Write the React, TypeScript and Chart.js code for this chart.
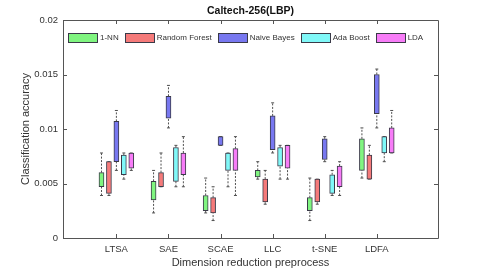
import React, { useEffect, useRef } from 'react';
import { Chart, registerables } from 'chart.js';

Chart.register(...registerables);

// ---------- data ----------
const categories = ['LTSA', 'SAE', 'SCAE', 'LLC', 't-SNE', 'LDFA'];
const seriesNames = ['1-NN', 'Random Forest', 'Naive Bayes', 'Ada Boost', 'LDA'];
const yTickValues = [0, 0.005, 0.01, 0.015, 0.02];

// whisker low, box bottom (q1), box top (q3), whisker high
const nnLow = [0.0039, 0.0023, 0.0023, 0.0054, 0.0016, 0.0055];
const nnQ1 = [0.0047, 0.0035, 0.0025, 0.0056, 0.0025, 0.0062];
const nnQ3 = [0.006, 0.0052, 0.0039, 0.0062, 0.0037, 0.0091];
const nnHigh = [0.0078, 0.0062, 0.0055, 0.007, 0.0055, 0.0101];

const rfLow = [0.0039, 0.0047, 0.0016, 0.0031, 0.0031, 0.0054];
const rfQ1 = [0.0041, 0.0047, 0.0023, 0.0033, 0.0033, 0.0054];
const rfQ3 = [0.007, 0.006, 0.0037, 0.0054, 0.0054, 0.0076];
const rfHigh = [0.007, 0.0078, 0.0047, 0.0062, 0.0054, 0.0085];

const nbLow = [0.0062, 0.0101, 0.0085, 0.0078, 0.007, 0.0101];
const nbQ1 = [0.007, 0.011, 0.0085, 0.0081, 0.0072, 0.0114];
const nbQ3 = [0.0107, 0.013, 0.0093, 0.0112, 0.0091, 0.015];
const nbHigh = [0.0117, 0.014, 0.0093, 0.0124, 0.0093, 0.0155];

const abLow = [0.0054, 0.0047, 0.0047, 0.0054, 0.0039, 0.007];
const abQ1 = [0.0058, 0.0052, 0.0062, 0.0066, 0.0041, 0.0078];
const abQ3 = [0.0076, 0.0083, 0.0078, 0.0083, 0.0058, 0.0093];
const abHigh = [0.0078, 0.0085, 0.0078, 0.0085, 0.0062, 0.0093];

const ldaLow = [0.0062, 0.0047, 0.0039, 0.0054, 0.0039, 0.0078];
const ldaQ1 = [0.0064, 0.0058, 0.0062, 0.0064, 0.0047, 0.0078];
const ldaQ3 = [0.0078, 0.0078, 0.0082, 0.0085, 0.0066, 0.0101];
const ldaHigh = [0.0078, 0.0093, 0.0093, 0.0085, 0.007, 0.0117];

// ---------- styling ----------
const FONT = '"Liberation Sans", Arial, Helvetica, sans-serif';
const colors = ['#80f580', '#f57a7a', '#7878f0', '#80f8f8', '#f77cf7'];
const boxBorder = '#3a3a48';
const whiskerColor = '#505050';
const axisColor = '#555555';
const textColor = '#333333';
const groupOffsets = [-0.286, -0.143, 0, 0.143, 0.286];

const seriesData = [
  { lo: nnLow, q1: nnQ1, q3: nnQ3, hi: nnHigh },
  { lo: rfLow, q1: rfQ1, q3: rfQ3, hi: rfHigh },
  { lo: nbLow, q1: nbQ1, q3: nbQ3, hi: nbHigh },
  { lo: abLow, q1: abQ1, q3: abQ3, hi: abHigh },
  { lo: ldaLow, q1: ldaQ1, q3: ldaQ3, hi: ldaHigh },
];

function buildDatasets() {
  const ds: any[] = [];
  seriesData.forEach((s, k) => {
    const xs = categories.map((_, i) => i + 1 + groupOffsets[k]);
    ds.push({
      type: 'bar',
      label: seriesNames[k],
      isBox: true,
      data: xs.map((x, i) => ({ x, y: [s.q1[i], s.q3[i]] })),
      backgroundColor: colors[k],
      borderColor: boxBorder,
      borderWidth: 1,
      borderSkipped: false,
      grouped: false,
      maxBarThickness: 5,
      barPercentage: 1,
      categoryPercentage: 1,
      order: 1,
    });
    const wh: any[] = [];
    xs.forEach((x, i) => {
      wh.push({ x, y: s.lo[i] }, { x, y: s.q1[i] }, { x, y: null });
      wh.push({ x, y: s.q3[i] }, { x, y: s.hi[i] }, { x, y: null });
    });
    ds.push({
      type: 'line',
      label: seriesNames[k] + ' whisker',
      data: wh,
      borderColor: whiskerColor,
      borderWidth: 1,
      borderDash: [2, 1.5],
      pointRadius: 0,
      spanGaps: false,
      fill: false,
      order: 2,
    });
    const caps: any[] = [];
    xs.forEach((x, i) => {
      caps.push({ x, y: s.lo[i] }, { x, y: s.hi[i] });
    });
    ds.push({
      type: 'scatter',
      label: seriesNames[k] + ' cap',
      data: caps,
      pointStyle: 'line',
      pointRadius: 1.5,
      pointBorderColor: whiskerColor,
      pointBorderWidth: 1,
      showLine: false,
      order: 2,
    });
  });
  return ds;
}

const frameAndLegend = {
  id: 'frameAndLegend',
  afterDraw(chart: any) {
    const { ctx, chartArea } = chart;
    const { left, right, top, bottom } = chartArea;
    const xs = chart.scales.x;
    const ys = chart.scales.y;
    ctx.save();
    // axes box
    ctx.strokeStyle = axisColor;
    ctx.lineWidth = 1;
    ctx.beginPath();
    ctx.rect(Math.round(left) + 0.5, Math.round(top) + 0.5, Math.round(right - left), Math.round(bottom - top));
    ctx.stroke();
    // inward ticks
    ctx.beginPath();
    yTickValues.forEach((v) => {
      const py = Math.round(ys.getPixelForValue(v)) + 0.5;
      ctx.moveTo(left, py);
      ctx.lineTo(left + 4, py);
      ctx.moveTo(right, py);
      ctx.lineTo(right - 4, py);
    });
    categories.forEach((_, i) => {
      const px = Math.round(xs.getPixelForValue(i + 1)) + 0.5;
      ctx.moveTo(px, bottom);
      ctx.lineTo(px, bottom - 4);
      ctx.moveTo(px, top);
      ctx.lineTo(px, top + 4);
    });
    ctx.stroke();

    // legend inside the plot area
    const boxes = chart.data.datasets.filter((d: any) => d.isBox);
    ctx.font = '8px ' + FONT;
    ctx.textBaseline = 'middle';
    ctx.textAlign = 'left';
    const swW = 29;
    const swH = 9;
    const gapText = 3;
    const gapItem = 6;
    let x = left + 5;
    const cy = top + 17;
    boxes.forEach((d: any) => {
      ctx.fillStyle = d.backgroundColor;
      ctx.fillRect(Math.round(x) + 0.5, Math.round(cy - swH / 2) + 0.5, swW, swH);
      ctx.strokeStyle = boxBorder;
      ctx.strokeRect(Math.round(x) + 0.5, Math.round(cy - swH / 2) + 0.5, swW, swH);
      ctx.fillStyle = textColor;
      const tx = x + swW + gapText;
      ctx.fillText(d.label, tx, cy + 0.5);
      x = tx + ctx.measureText(d.label).width + gapItem;
    });
    ctx.restore();
  },
};

export default function App() {
  const canvasRef = useRef<HTMLCanvasElement | null>(null);

  useEffect(() => {
    if (!canvasRef.current) return;
    const chart = new Chart(canvasRef.current, {
      type: 'bar',
      data: { datasets: buildDatasets() } as any,
      options: {
        animation: false,
        responsive: true,
        maintainAspectRatio: false,
        layout: { padding: { left: 0, right: 47, top: 0, bottom: 0 } },
        plugins: {
          legend: { display: false },
          tooltip: { enabled: false },
          title: {
            display: true,
            text: 'Caltech-256(LBP)',
            fullSize: false,
            color: '#111111',
            font: { family: FONT, size: 10.5, weight: 'bold' },
            padding: { top: 5, bottom: 2.4 },
          },
        },
        scales: {
          x: {
            type: 'linear',
            min: 0.575,
            max: 6.575,
            grid: { display: false, drawTicks: false },
            border: { display: false },
            afterBuildTicks: (scale: any) => {
              scale.ticks = categories.map((_, i) => ({ value: i + 1 }));
            },
            afterFit: (scale: any) => {
              scale.height = 33;
            },
            ticks: {
              autoSkip: false,
              maxRotation: 0,
              padding: 6,
              color: textColor,
              font: { family: FONT, size: 9.5 },
              callback: (v: any) => categories[Math.round(v) - 1] ?? '',
            },
            title: {
              display: true,
              text: 'Dimension reduction preprocess',
              color: textColor,
              font: { family: FONT, size: 11 },
              padding: { top: 0, bottom: 1 },
            },
          },
          y: {
            type: 'linear',
            min: 0,
            max: 0.02,
            grid: { display: false, drawTicks: false },
            border: { display: false },
            afterBuildTicks: (scale: any) => {
              scale.ticks = yTickValues.map((v) => ({ value: v }));
            },
            afterFit: (scale: any) => {
              scale.width = 63;
            },
            ticks: {
              padding: 5,
              color: textColor,
              font: { family: FONT, size: 9.5 },
              callback: (v: any) => String(+Number(v).toFixed(4)),
            },
            title: {
              display: true,
              text: 'Classification accuracy',
              color: textColor,
              font: { family: FONT, size: 11 },
              padding: { top: 19, bottom: 0 },
            },
          },
        },
      } as any,
      plugins: [frameAndLegend],
    });
    return () => chart.destroy();
  }, []);

  return (
    <div style={{ position: 'fixed', left: 0, top: 0, width: 485, height: 271, background: '#ffffff' }}>
      <canvas ref={canvasRef} />
    </div>
  );
}
